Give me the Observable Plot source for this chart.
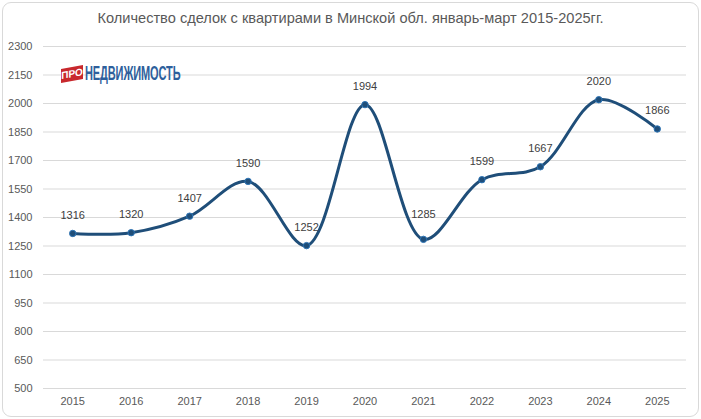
<!DOCTYPE html>
<html><head><meta charset="utf-8">
<script src="https://cdn.jsdelivr.net/npm/d3@7"></script>
<script src="https://cdn.jsdelivr.net/npm/@observablehq/plot@0.6"></script>
<style>
body{margin:0;background:#fff;}
#card{position:absolute;left:2px;top:2px;width:695px;height:413px;border:1px solid #d9d9d9;border-radius:9px;background:#fff;}
#wrap{position:absolute;left:0;top:0;width:701px;height:419px;font-family:"Liberation Sans",Arial,sans-serif;}
#title{position:absolute;left:0;top:10px;width:701px;text-align:center;font-size:14.6px;color:#595959;}
#chart{position:absolute;left:0;top:40px;}
#logo{position:absolute;left:61px;top:64px;height:18px;white-space:nowrap;}
#pro{position:absolute;left:0;top:3px;width:22px;height:14px;background:#c8282d;transform:skewY(-10deg);color:#fff;font:bold 10px "Liberation Sans",sans-serif;line-height:14px;text-align:center;}
#ned{position:absolute;left:24px;top:-2px;font:bold 20px "Liberation Sans",sans-serif;color:#2e5f9c;transform:scaleX(0.55);transform-origin:left top;letter-spacing:-0.2px;}
</style></head>
<body>
<div id="wrap">
<div id="card"></div>
<div id="title">Количество сделок с квартирами в Минской обл. январь-март 2015-2025гг.</div>
<div id="chart"></div>
<div id="logo"><div id="pro">ПРО</div><div id="ned">НЕДВИЖИМОСТЬ</div></div>
</div>
<script>
const years = ["2015","2016","2017","2018","2019","2020","2021","2022","2023","2024","2025"];
const deals = [1316,1320,1407,1590,1252,1994,1285,1599,1667,2020,1866];
const yTicks = [500,650,800,950,1100,1250,1400,1550,1700,1850,2000,2150,2300];

const data = years.map((y,i)=>({year:y, value:deals[i]}));

const chart = Plot.plot({
  width:701, height:379,
  marginTop:6, marginBottom:31, marginLeft:43, marginRight:15,
  style:{fontFamily:"Liberation Sans, Arial, sans-serif", fontSize:"11px", color:"#595959", background:"transparent"},
  x:{type:"point", domain:years, padding:0.5, round:false, label:null},
  y:{domain:[500,2300], ticks:yTicks, label:null},
  marks:[
    Plot.gridY(yTicks,{stroke:"#d9d9d9", strokeOpacity:1, strokeWidth:1}),
    Plot.axisY(yTicks,{tickSize:0, tickPadding:11, fill:"#595959", label:null, tickFormat:d3.format("d")}),
    Plot.axisX({tickSize:0, tickPadding:9, fill:"#595959", label:null}),
    Plot.line(data,{x:"year", y:"value", curve:"catmull-rom", stroke:"#1f4e79", strokeWidth:3}),
    Plot.dot(data,{x:"year", y:"value", r:3.2, fill:"#1f4e79", stroke:"#2e75b6", strokeWidth:1}),
    Plot.text(data,{filter:d=>d.year!=="2021", x:"year", y:"value", text:d=>String(d.value), dy:-18, fill:"#404040", fontSize:11}),
    Plot.text(data,{filter:d=>d.year==="2021", x:"year", y:"value", text:d=>String(d.value), dy:-25, fill:"#404040", fontSize:11})
  ]
});
document.getElementById("chart").appendChild(chart);
</script>
</body></html>
